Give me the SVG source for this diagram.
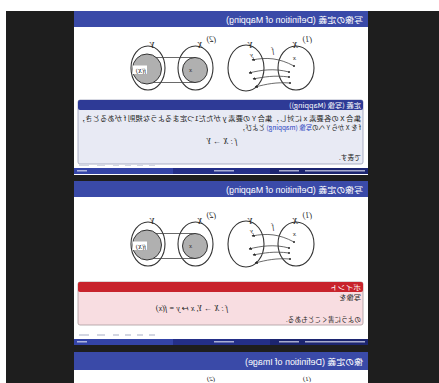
<svg xmlns="http://www.w3.org/2000/svg" xmlns:xlink="http://www.w3.org/1999/xlink" width="439" height="383" viewBox="0 0 439 383">
<style>
.hd{fill:#3a4aa8}
.hdt{fill:#ffffff;font-family:"Liberation Sans","Noto Sans CJK JP",sans-serif;font-size:8.5px}
.jp{font-family:"Noto Sans CJK JP",sans-serif;font-size:6.4px;fill:#222}
.bxt{fill:#ffffff;font-family:"Noto Sans CJK JP",sans-serif;font-size:6.8px}
.m{font-family:"Liberation Serif","Noto Sans CJK JP",serif;font-style:italic;fill:#222}
.ell{fill:none;stroke:#333;stroke-width:1.1}
.gr{fill:#b0b0b0;stroke:#333;stroke-width:1}
.ln{fill:none;stroke:#444;stroke-width:0.8}
.nav{fill:#d3d6e2}
.ft{fill:#e3e6f5;opacity:0.7}
</style>
<defs>
<marker id="ah" viewBox="0 0 6 6" refX="5" refY="3" markerWidth="4" markerHeight="4" orient="auto">
<path d="M0,0 L6,3 L0,6 z" fill="#222"/>
</marker>
<g id="fig">
<text x="127" y="42" class="m" font-style="normal" font-size="8">(1)</text>
<ellipse cx="143" cy="68" rx="18" ry="22" class="ell"/>
<ellipse cx="193" cy="68" rx="18" ry="23" class="ell"/>
<text x="141" y="48" class="m" font-size="9">X</text>
<text x="186" y="48" class="m" font-size="9">Y</text>
<text x="165" y="53" class="m" font-size="7.5">f</text>
<text x="143" y="60" class="m" font-size="7">x</text>
<text x="186" y="57" class="m" font-size="7">y</text>
<circle cx="145" cy="66" r="1" fill="#222"/>
<circle cx="150" cy="72" r="1" fill="#222"/>
<circle cx="150" cy="77" r="1" fill="#222"/>
<circle cx="149" cy="83" r="1" fill="#222"/>
<path d="M145,66 C160,58 172,57 187,60" class="ln" marker-end="url(#ah)"/>
<path d="M150,72 C165,68 178,70 190,73" class="ln" marker-end="url(#ah)"/>
<path d="M150,77 C165,75 175,77 186,79" class="ln" marker-end="url(#ah)"/>
<path d="M149,83 C163,82 172,84 184,87" class="ln" marker-end="url(#ah)"/>
<text x="223" y="42" class="m" font-style="normal" font-size="8">(2)</text>
<ellipse cx="243.5" cy="68" rx="17.5" ry="22" class="ell"/>
<ellipse cx="291" cy="68" rx="17" ry="22" class="ell"/>
<path d="M244,57.5 H291 M244,82.5 H291" class="ln"/>
<circle cx="244" cy="70" r="12.5" class="gr"/>
<ellipse cx="292" cy="69" rx="14.5" ry="15" class="gr"/>
<text x="236" y="48" class="m" font-size="9">X</text>
<text x="284" y="48" class="m" font-size="9">Y</text>
<text x="247" y="72" class="m" font-size="6.5">x</text>
<rect x="292" y="65.5" width="14.5" height="8.5" fill="#ffffff"/>
<text x="293" y="72.5" class="m" font-size="6.5">f(X)</text>
</g>
<g id="foot">
<rect x="71" y="0" width="98" height="6" fill="#1c2570"/>
<rect x="169" y="0" width="97" height="6" fill="#242f88"/>
<rect x="266" y="0" width="99" height="6" fill="#3444a8"/>
<rect x="74" y="2" width="60" height="1.5" class="ft"/>
<rect x="140" y="2" width="20" height="1.5" class="ft"/>
<rect x="205" y="2" width="20" height="1.5" class="ft"/>
<rect x="352" y="2" width="10" height="1.5" class="ft"/>
</g>
<g id="navs">
<rect x="284" y="0" width="6" height="2" class="nav"/>
<rect x="296" y="0" width="6" height="2" class="nav"/>
<rect x="308" y="0" width="6" height="2" class="nav"/>
<rect x="320" y="0" width="6" height="2" class="nav"/>
<rect x="334" y="0" width="8" height="2" class="nav"/>
<rect x="350" y="0" width="10" height="2" class="nav"/>
</g>
</defs>
<rect x="0" y="0" width="439" height="383" fill="#ffffff"/>
<rect x="6" y="11" width="433" height="372" fill="#1e1e1e"/>
<g transform="translate(439,0) scale(-1,1)">
<g id="slide1">
<rect x="71" y="11" width="294" height="164" fill="#ffffff"/>
<rect x="71" y="11" width="294" height="16" class="hd"/>
<text x="76" y="22.5" class="hdt" textLength="137" lengthAdjust="spacingAndGlyphs">写像の定義 (Definition of Mapping)</text>
<use xlink:href="#fig"/>
<g id="defbox">
<rect x="76" y="100" width="285" height="64" rx="2" fill="#e8eaf4" stroke="#9aa0b8" stroke-width="0.8"/>
<rect x="76" y="100" width="285" height="10" rx="2" fill="#2e3a96"/>
<text x="78" y="107.8" class="bxt" textLength="72" lengthAdjust="spacingAndGlyphs">定義 (写像 (Mapping))</text>
<text x="78" y="120.5" class="jp" textLength="283" lengthAdjust="spacingAndGlyphs">集合 X の各要素 x に対し，集合 Y の要素 y がただ1つ定まるような規則 f があるとき，</text>
<text x="78" y="129.8" class="jp" textLength="122" lengthAdjust="spacingAndGlyphs">f を X から Y への<tspan fill="#2a3fc0">写像 (mapping)</tspan> とよび，</text>
<text x="217" y="144" class="m" font-size="8" text-anchor="middle">f : X → Y</text>
<text x="78" y="159.5" class="jp" textLength="22" lengthAdjust="spacingAndGlyphs">で表す.</text>
</g>
<use xlink:href="#navs" y="164"/>
<use xlink:href="#foot" y="168"/>
</g>
<g id="slide2">
<rect x="71" y="181" width="294" height="164" fill="#ffffff"/>
<rect x="71" y="181" width="294" height="16" class="hd"/>
<text x="76" y="192.5" class="hdt" textLength="137" lengthAdjust="spacingAndGlyphs">写像の定義 (Definition of Mapping)</text>
<use xlink:href="#fig" y="176"/>
<g id="pointbox">
<rect x="76" y="282" width="285" height="43" rx="2" fill="#f8dde1" stroke="#a89a9c" stroke-width="0.8"/>
<rect x="76" y="282" width="285" height="10" rx="2" fill="#c8232c"/>
<text x="78" y="289.8" class="bxt" textLength="31" lengthAdjust="spacingAndGlyphs">ポイント</text>
<text x="78" y="299.5" class="jp" textLength="22" lengthAdjust="spacingAndGlyphs">写像を</text>
<text x="247" y="311" class="m" font-size="8" text-anchor="middle">f : X → Y,   x ↦ y = f(x)</text>
<text x="78" y="321.5" class="jp" textLength="75" lengthAdjust="spacingAndGlyphs">のように書くこともある.</text>
</g>
<use xlink:href="#navs" y="334"/>
<use xlink:href="#foot" y="339"/>
</g>
<g id="slide3">
<rect x="71" y="352" width="294" height="31" fill="#ffffff"/>
<rect x="71" y="352" width="294" height="18" class="hd"/>
<text x="76" y="364.5" class="hdt" textLength="118" lengthAdjust="spacingAndGlyphs">像の定義 (Definition of Image)</text>
<text x="128" y="381" class="m" font-style="normal" font-size="7">(1)</text>
<text x="224" y="381" class="m" font-style="normal" font-size="7">(2)</text>
</g>
</g>
</svg>
